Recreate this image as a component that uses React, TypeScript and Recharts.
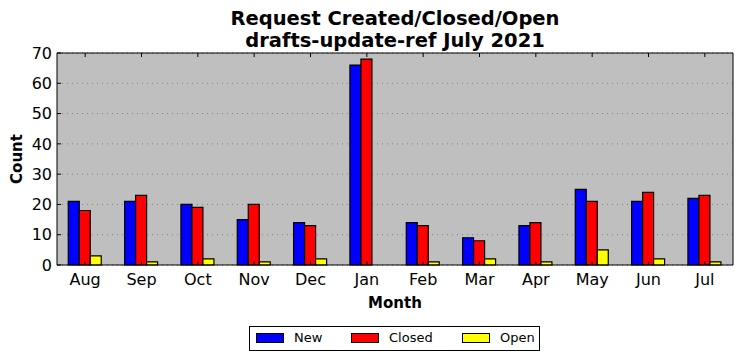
import { BarChart, Bar, XAxis, YAxis, CartesianGrid } from "recharts";

const months = ["Aug", "Sep", "Oct", "Nov", "Dec", "Jan", "Feb", "Mar", "Apr", "May", "Jun", "Jul"];
const created = [21, 21, 20, 15, 14, 66, 14, 9, 13, 25, 21, 22];
const closed = [18, 23, 19, 20, 13, 68, 13, 8, 14, 21, 24, 23];
const open = [3, 1, 2, 1, 2, 0, 1, 2, 1, 5, 2, 1];
const yTicks = [0, 10, 20, 30, 40, 50, 60, 70];

const data = months.map((m, i) => ({ month: m, New: created[i], Closed: closed[i], Open: open[i] }));

const FONT = "'DejaVu Sans', sans-serif";

const LeftTick = (props: any) => {
  const { x, y, payload } = props;
  return (
    <g>
      <line x1={x} x2={x + 4} y1={y} y2={y} stroke="#000" />
      <text x={x - 5} y={y} dy="0.36em" textAnchor="end" fontSize={16} fontFamily={FONT} fill="#000">
        {payload.value}
      </text>
    </g>
  );
};

const RightTick = (props: any) => {
  const { x, y } = props;
  return <line x1={x - 4} x2={x} y1={y} y2={y} stroke="#000" />;
};

const BottomTick = (props: any) => {
  const { x, y, payload } = props;
  return (
    <g>
      <line x1={x} x2={x} y1={y} y2={y - 4} stroke="#000" />
      <text x={x} y={y + 20} textAnchor="middle" fontSize={16} fontFamily={FONT} fill="#000">
        {payload.value}
      </text>
    </g>
  );
};

const TopTick = (props: any) => {
  const { x, y } = props;
  return <line x1={x} x2={x} y1={y} y2={y + 4} stroke="#000" />;
};

const legendItems = [
  { name: "New", color: "#0000ff", patch: 6, text: 44 },
  { name: "Closed", color: "#ff0000", patch: 101, text: 139 },
  { name: "Open", color: "#ffff00", patch: 212, text: 250 },
];

export default function App() {
  return (
    <div style={{ position: "absolute", left: 0, top: 0, width: 742, height: 361, background: "#fff", fontFamily: FONT }}>
      <div style={{ position: "absolute", left: 57, width: 676, top: 8, textAlign: "center", fontWeight: "bold", fontSize: 19.5, lineHeight: "22px", color: "#000" }}>
        Request Created/Closed/Open
        <br />
        drafts-update-ref July 2021
      </div>
      <div style={{ position: "absolute", left: 57, width: 676, top: 294, textAlign: "center", fontWeight: "bold", fontSize: 15, color: "#000" }}>
        Month
      </div>
      <div style={{ position: "absolute", left: 17, top: 159, transform: "translate(-50%, -50%) rotate(-90deg)", fontWeight: "bold", fontSize: 15, color: "#000", whiteSpace: "nowrap" }}>
        Count
      </div>
      <BarChart
        width={742}
        height={361}
        data={data}
        margin={{ top: 52, right: 8, left: 7, bottom: 66 }}
        barCategoryGap="20%"
        barGap={0}
      >
        <CartesianGrid vertical={false} fill="#bfbfbf" stroke="#808080" strokeDasharray="1 4" />
        <XAxis dataKey="month" height={30} tickSize={0} tickMargin={0} axisLine={{ stroke: "#000" }} tick={<BottomTick />} interval={0} />
        <XAxis xAxisId="top" dataKey="month" orientation="top" height={1} tickSize={0} tickMargin={0} axisLine={{ stroke: "#000" }} tick={<TopTick />} interval={0} />
        <YAxis domain={[0, 70]} ticks={yTicks} width={50} tickSize={0} tickMargin={0} axisLine={{ stroke: "#000" }} tick={<LeftTick />} />
        <YAxis yAxisId="right" orientation="right" domain={[0, 70]} ticks={yTicks} width={1} tickSize={0} tickMargin={0} axisLine={{ stroke: "#000" }} tick={<RightTick />} />
        <Bar dataKey="New" fill="#0000ff" stroke="#000" strokeWidth={1.2} isAnimationActive={false} />
        <Bar dataKey="Closed" fill="#ff0000" stroke="#000" strokeWidth={1.2} isAnimationActive={false} />
        <Bar dataKey="Open" fill="#ffff00" stroke="#000" strokeWidth={1.2} isAnimationActive={false} />
      </BarChart>
      <div style={{ position: "absolute", left: 249, top: 326, width: 289, height: 23, border: "1px solid #000", background: "#fff" }}>
        {legendItems.map((it) => (
          <div key={it.name}>
            <div style={{ position: "absolute", left: it.patch, top: 6, width: 26, height: 8, background: it.color, border: "1px solid #000" }} />
            <div style={{ position: "absolute", left: it.text, top: 3, fontSize: 13, lineHeight: "16px", color: "#000" }}>{it.name}</div>
          </div>
        ))}
      </div>
    </div>
  );
}
